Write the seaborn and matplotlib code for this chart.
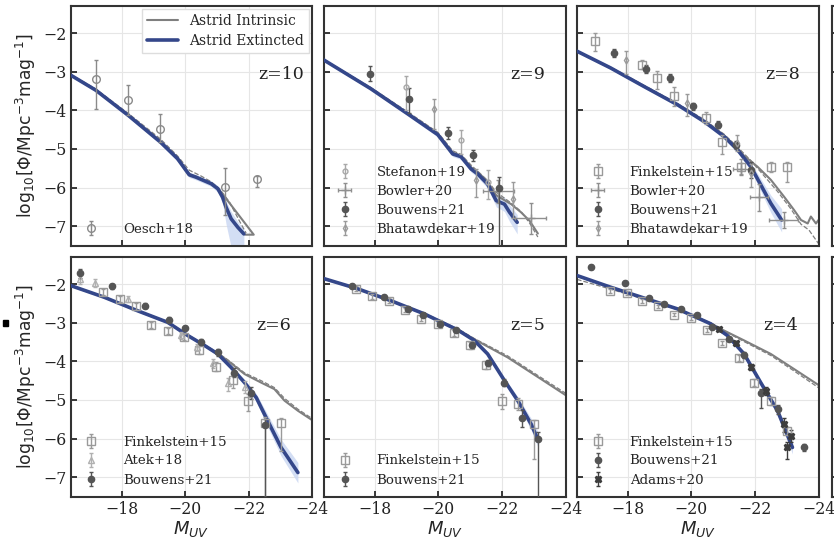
import matplotlib
matplotlib.use("Agg")
import matplotlib.pyplot as plt
import seaborn as sns
from matplotlib.patches import Rectangle
from matplotlib.lines import Line2D

# ---------------- panel labels ----------------
z_labels = ["z=10", "z=9", "z=8", "z=6", "z=5", "z=4"]
x_ticks = [-18, -20, -22, -24]
y_ticks = [-2, -3, -4, -5, -6, -7]

# ---------------- Astrid model curves ----------------
ext_M_z10 = [-16.4, -17.19, -18.21, -19.22, -19.76, -20.13, -20.34, -20.82, -21.03, -21.18, -21.29, -21.45, -21.66, -21.85]
ext_phi_z10 = [-3.09, -3.48, -4.13, -4.82, -5.25, -5.67, -5.73, -5.90, -6.03, -6.25, -6.51, -6.81, -7.03, -7.20]
ext_lo_z10 = [-3.13, -3.52, -4.18, -4.88, -5.32, -5.74, -5.80, -5.97, -6.12, -6.40, -6.95, -7.55, -7.60, -7.60]
ext_hi_z10 = [-3.05, -3.44, -4.08, -4.76, -5.18, -5.60, -5.66, -5.83, -5.95, -6.12, -6.35, -6.62, -6.88, -7.08]
int_M_z10 = [-16.4, -17.19, -18.21, -19.22, -19.76, -20.13, -20.34, -20.82, -21.03, -21.34, -22.16, -21.90]
int_phi_z10 = [-3.09, -3.47, -4.12, -4.80, -5.23, -5.65, -5.72, -5.89, -6.02, -6.34, -7.22, -7.22]
dash_M_z10 = [-16.4, -17.19, -18.21, -19.22, -19.76, -20.13, -20.5, -20.82, -21.1, -21.4, -21.7, -21.92]
dash_phi_z10 = [-3.07, -3.45, -4.08, -4.74, -5.18, -5.55, -5.70, -5.85, -6.05, -6.38, -6.85, -7.18]

ext_M_z9 = [-16.4, -17.87, -19.03, -19.98, -20.45, -20.71, -21.03, -21.24, -21.55, -21.82, -22.08, -22.24, -22.48]
ext_phi_z9 = [-2.70, -3.44, -4.09, -4.63, -5.13, -5.20, -5.52, -5.65, -5.91, -6.34, -6.43, -6.64, -6.90]
ext_lo_z9 = [-2.74, -3.48, -4.14, -4.69, -5.20, -5.27, -5.60, -5.74, -6.02, -6.50, -6.62, -6.88, -7.20]
ext_hi_z9 = [-2.66, -3.40, -4.04, -4.57, -5.06, -5.13, -5.44, -5.56, -5.80, -6.18, -6.25, -6.45, -6.70]
int_M_z9 = [-16.4, -17.87, -19.03, -19.98, -20.45, -20.71, -21.03, -21.24, -21.55, -21.82, -22.29, -22.6, -22.87, -23.13]
int_phi_z9 = [-2.70, -3.43, -4.07, -4.60, -5.10, -5.17, -5.48, -5.60, -5.85, -6.20, -6.43, -6.64, -6.86, -7.19]
dash_M_z9 = [-16.4, -17.87, -19.03, -19.98, -20.45, -20.71, -21.03, -21.24, -21.55, -21.82, -22.29, -22.6, -22.87, -23.13]
dash_phi_z9 = [-2.69, -3.41, -4.04, -4.57, -5.05, -5.14, -5.42, -5.58, -5.82, -6.12, -6.40, -6.62, -6.92, -7.28]

ext_M_z8 = [-16.4, -17.45, -18.5, -19.55, -20.4, -21.03, -21.45, -21.87, -22.13, -22.5, -22.84]
ext_phi_z8 = [-2.47, -2.90, -3.38, -3.85, -4.29, -4.68, -5.02, -5.46, -5.85, -6.41, -6.84]
ext_lo_z8 = [-2.51, -2.94, -3.42, -3.90, -4.34, -4.74, -5.09, -5.56, -6.00, -6.65, -7.15]
ext_hi_z8 = [-2.43, -2.86, -3.34, -3.80, -4.24, -4.62, -4.95, -5.36, -5.70, -6.20, -6.55]
int_M_z8 = [-16.4, -17.45, -18.5, -19.55, -20.4, -21.03, -21.45, -21.66, -22.08, -22.5, -22.92, -23.23, -23.45, -23.66, -23.76, -23.92, -24.0]
int_phi_z8 = [-2.47, -2.90, -3.37, -3.84, -4.27, -4.65, -4.98, -5.18, -5.46, -5.80, -6.24, -6.58, -6.84, -6.93, -6.75, -6.93, -6.84]
dash_M_z8 = [-16.4, -17.45, -18.5, -19.55, -20.4, -21.03, -21.45, -21.87, -22.29, -22.71, -23.13, -23.45, -23.7, -24.0]
dash_phi_z8 = [-2.46, -2.88, -3.35, -3.82, -4.24, -4.62, -4.95, -5.30, -5.70, -6.10, -6.55, -6.95, -7.10, -7.45]

ext_M_z6 = [-16.4, -17.45, -18.5, -19.45, -20.08, -20.61, -21.03, -21.45, -21.87, -22.24, -22.6, -23.02, -23.55]
ext_phi_z6 = [-2.04, -2.34, -2.69, -2.99, -3.33, -3.59, -3.81, -4.16, -4.55, -4.94, -5.54, -6.23, -6.88]
ext_lo_z6 = [-2.07, -2.37, -2.72, -3.03, -3.37, -3.63, -3.86, -4.22, -4.63, -5.04, -5.70, -6.45, -7.15]
ext_hi_z6 = [-2.01, -2.31, -2.66, -2.95, -3.29, -3.55, -3.76, -4.10, -4.47, -4.84, -5.38, -6.02, -6.62]
int_M_z6 = [-16.4, -17.45, -18.5, -19.45, -20.08, -20.61, -21.03, -21.34, -21.87, -22.39, -22.81, -23.13, -23.55, -24.03]
int_phi_z6 = [-2.04, -2.34, -2.69, -2.99, -3.33, -3.59, -3.80, -3.98, -4.33, -4.55, -4.72, -5.02, -5.28, -5.54]
dash_M_z6 = [-16.4, -17.45, -18.5, -19.45, -20.08, -20.61, -21.03, -21.34, -21.87, -22.39, -22.81, -23.13, -23.55, -24.03]
dash_phi_z6 = [-2.03, -2.33, -2.68, -2.98, -3.31, -3.57, -3.78, -3.96, -4.30, -4.50, -4.68, -4.96, -5.24, -5.50]

ext_M_z5 = [-16.4, -17.45, -18.5, -19.55, -20.61, -21.13, -21.55, -22.08, -22.5, -22.92, -23.13]
ext_phi_z5 = [-1.86, -2.12, -2.43, -2.77, -3.19, -3.46, -3.81, -4.50, -5.02, -5.63, -6.02]
ext_lo_z5 = [-1.89, -2.15, -2.46, -2.80, -3.23, -3.50, -3.86, -4.57, -5.12, -5.78, -6.22]
ext_hi_z5 = [-1.83, -2.09, -2.40, -2.74, -3.15, -3.42, -3.76, -4.43, -4.92, -5.48, -5.82]
int_M_z5 = [-16.4, -17.45, -18.5, -19.55, -20.61, -21.13, -22.18, -23.23, -24.03]
int_phi_z5 = [-1.86, -2.12, -2.43, -2.77, -3.18, -3.43, -3.90, -4.46, -4.89]
dash_M_z5 = [-16.4, -17.45, -18.5, -19.55, -20.61, -21.13, -22.18, -23.23, -24.03]
dash_phi_z5 = [-1.85, -2.11, -2.42, -2.75, -3.16, -3.41, -3.86, -4.42, -4.84]

ext_M_z4 = [-16.4, -17.45, -18.5, -19.55, -20.61, -21.13, -21.66, -22.18, -22.71, -23.18]
ext_phi_z4 = [-1.78, -2.08, -2.36, -2.64, -3.03, -3.33, -3.81, -4.55, -5.28, -6.23]
ext_lo_z4 = [-1.81, -2.11, -2.39, -2.67, -3.07, -3.37, -3.86, -4.62, -5.38, -6.40]
ext_hi_z4 = [-1.75, -2.05, -2.33, -2.61, -2.99, -3.29, -3.76, -4.48, -5.18, -6.06]
int_M_z4 = [-16.4, -17.45, -18.5, -19.55, -20.61, -20.92, -21.66, -22.5, -23.23, -24.03]
int_phi_z4 = [-1.78, -2.08, -2.36, -2.64, -3.02, -3.16, -3.46, -3.81, -4.20, -4.63]
dash_M_z4 = [-16.4, -17.45, -18.5, -19.55, -20.61, -20.92, -21.66, -22.5, -23.23, -24.03]
dash_phi_z4 = [-1.88, -2.13, -2.39, -2.66, -3.03, -3.17, -3.49, -3.85, -4.25, -4.70]

# ---------------- observations: (M, logphi, err_down, err_up) ----------------
oesch18_z10 = [(-17.19, -3.20, 0.77, 0.50), (-18.21, -3.74, 0.39, 0.39), (-19.22, -4.49, 0.33, 0.40),
               (-21.25, -5.99, 0.71, 0.50), (-22.26, -5.77, 0.22, 0.08)]

stefanon19_z9 = [(-18.98, -3.40, 0.60, 0.28), (-20.71, -4.76, 0.37, 0.26), (-21.55, -5.85, 0.45, 0.30)]
bowler20_z9 = [(-21.89, -6.10, 0.50, 0.30), (-22.90, -6.79, 0.50, 0.40)]   # (M, phi, xerr, yerr)
bouwens21_z9 = [(-17.85, -3.05, 0.20, 0.20), (-19.08, -3.72, 0.35, 0.30), (-20.29, -4.59, 0.15, 0.15),
                (-21.10, -5.17, 0.15, 0.15), (-21.92, -6.02, 1.60, 0.30)]
bhatawdekar19_z9 = [(-19.87, -3.96, 0.52, 0.26), (-21.18, -5.80, 0.45, 0.28), (-22.36, -6.30, 0.50, 0.45)]

finkelstein15_z8 = [(-16.98, -2.21, 0.26, 0.22), (-18.45, -2.82, 0.12, 0.12), (-18.92, -3.16, 0.30, 0.17),
                    (-19.45, -3.64, 0.25, 0.25), (-20.45, -4.20, 0.15, 0.15), (-20.97, -4.83, 0.30, 0.20),
                    (-21.55, -5.46, 0.20, 0.20), (-22.50, -5.46, 0.15, 0.12), (-23.02, -5.46, 0.40, 0.12)]
bowler20_z8 = [(-21.55, -5.52, 0.25, 0.15), (-22.13, -6.25, 0.27, 0.35), (-22.90, -6.84, 0.45, 0.20)]
bouwens21_z8 = [(-17.56, -2.51, 0.12, 0.10), (-18.56, -2.94, 0.10, 0.10), (-19.32, -3.16, 0.10, 0.10),
                (-20.06, -3.90, 0.10, 0.10), (-20.85, -4.37, 0.10, 0.10), (-21.40, -4.89, 0.10, 0.10),
                (-21.89, -5.54, 0.20, 0.20)]
bhatawdekar19_z8 = [(-17.95, -2.69, 0.38, 0.22), (-19.87, -3.81, 0.35, 0.22), (-21.43, -4.85, 0.20, 0.20),
                    (-21.87, -5.63, 0.35, 0.25)]

finkelstein15_z6 = [(-17.43, -2.21, 0.08, 0.08), (-17.96, -2.38, 0.08, 0.08), (-18.45, -2.58, 0.08, 0.08),
                    (-18.94, -3.07, 0.08, 0.08), (-19.45, -3.22, 0.08, 0.08), (-19.98, -3.38, 0.08, 0.08),
                    (-20.45, -3.71, 0.10, 0.10), (-20.97, -4.14, 0.12, 0.12), (-21.50, -4.49, 0.20, 0.20),
                    (-21.99, -5.04, 0.25, 0.20), (-22.50, -5.59, 2.00, 0.15), (-23.02, -5.59, 0.73, 0.12)]
atek18_z6 = [(-16.69, -1.86, 0.15, 0.12), (-17.16, -1.98, 0.10, 0.10), (-18.21, -2.38, 0.08, 0.08),
             (-19.87, -3.33, 0.10, 0.10), (-20.37, -3.64, 0.10, 0.10), (-20.87, -4.05, 0.12, 0.12),
             (-21.36, -4.57, 0.20, 0.15), (-21.87, -4.66, 0.15, 0.15)]
bouwens21_z6 = [(-16.69, -1.72, 0.12, 0.12), (-17.71, -2.06, 0.06, 0.06), (-18.73, -2.56, 0.06, 0.06),
                (-19.48, -2.92, 0.06, 0.06), (-20.00, -3.14, 0.06, 0.06), (-20.50, -3.51, 0.08, 0.08),
                (-21.03, -3.77, 0.08, 0.08), (-21.53, -4.29, 0.12, 0.12), (-22.06, -4.82, 0.15, 0.15),
                (-22.53, -5.65, 1.90, 0.15)]

finkelstein15_z5 = [(-17.40, -2.12, 0.06, 0.06), (-17.92, -2.32, 0.06, 0.06), (-18.43, -2.43, 0.06, 0.06),
                    (-18.96, -2.67, 0.06, 0.06), (-19.45, -2.90, 0.06, 0.06), (-19.98, -3.03, 0.06, 0.06),
                    (-20.48, -3.27, 0.08, 0.08), (-20.99, -3.59, 0.08, 0.08), (-21.50, -4.09, 0.10, 0.10),
                    (-22.00, -5.04, 0.20, 0.20), (-22.50, -5.11, 0.15, 0.15), (-23.02, -5.63, 0.90, 0.12)]
bouwens21_z5 = [(-17.29, -2.04, 0.05, 0.05), (-18.29, -2.34, 0.05, 0.05), (-19.03, -2.64, 0.05, 0.05),
                (-19.53, -2.80, 0.05, 0.05), (-20.06, -3.03, 0.05, 0.05), (-20.55, -3.19, 0.05, 0.05),
                (-21.06, -3.58, 0.06, 0.06), (-21.55, -4.05, 0.08, 0.08), (-22.08, -4.55, 0.10, 0.10),
                (-22.64, -5.46, 0.25, 0.20), (-23.13, -6.02, 1.60, 0.20)]

finkelstein15_z4 = [(-17.43, -2.19, 0.05, 0.05), (-17.96, -2.24, 0.05, 0.05), (-18.45, -2.45, 0.05, 0.05),
                    (-18.94, -2.58, 0.05, 0.05), (-19.45, -2.79, 0.05, 0.05), (-19.98, -2.88, 0.05, 0.05),
                    (-20.50, -3.19, 0.06, 0.06), (-20.97, -3.53, 0.06, 0.06), (-21.50, -3.92, 0.08, 0.08),
                    (-21.97, -4.55, 0.10, 0.10), (-22.50, -5.02, 0.10, 0.10), (-23.02, -5.80, 0.12, 0.10)]
bouwens21_z4 = [(-16.84, -1.56, 0.05, 0.05), (-17.92, -1.98, 0.05, 0.05), (-18.66, -2.36, 0.05, 0.05),
                (-19.15, -2.51, 0.05, 0.05), (-19.66, -2.64, 0.05, 0.05), (-20.19, -2.79, 0.05, 0.05),
                (-20.66, -3.12, 0.05, 0.05), (-21.18, -3.42, 0.06, 0.06), (-21.66, -3.83, 0.08, 0.08),
                (-22.18, -4.81, 0.40, 0.10), (-22.71, -5.24, 0.12, 0.12), (-23.53, -6.23, 0.08, 0.08)]
adams20_z4 = [(-20.87, -3.16, 0.05, 0.05), (-21.40, -3.53, 0.06, 0.06), (-21.87, -4.14, 0.08, 0.08),
              (-22.34, -4.76, 0.10, 0.10), (-22.92, -5.63, 0.20, 0.15), (-23.13, -5.93, 0.15, 0.15),
              (-23.02, -6.23, 0.31, 0.15)]

# ---------------- styles ----------------
C_EXT = "#34478a"
C_INT = "#7f7f7f"
C_BAND = "#c9d6f2"
styles = {
    "Oesch+18": dict(fmt="o", mfc="none", mec="#8a8a8a", ecolor="#8a8a8a", ms=5.5),
    "Stefanon+19": dict(fmt="o", mfc="none", mec="#a8a8a8", ecolor="#a8a8a8", ms=3.5),
    "Bowler+20": dict(fmt="+", mfc="none", mec="#8f8f8f", ecolor="#8f8f8f", ms=6),
    "Bouwens+21": dict(fmt="o", mfc="#555555", mec="#555555", ecolor="#555555", ms=4.5),
    "Bhatawdekar+19": dict(fmt="d", mfc="none", mec="#9a9a9a", ecolor="#9a9a9a", ms=3.5),
    "Finkelstein+15": dict(fmt="s", mfc="none", mec="#9a9a9a", ecolor="#9a9a9a", ms=5.5),
    "Atek+18": dict(fmt="^", mfc="none", mec="#b0b0b0", ecolor="#b0b0b0", ms=5),
    "Adams+20": dict(fmt="X", mfc="#3d3d3d", mec="#3d3d3d", ecolor="#3d3d3d", ms=4.5),
}

panels = [
    dict(ext=(ext_M_z10, ext_phi_z10, ext_lo_z10, ext_hi_z10), intr=(int_M_z10, int_phi_z10),
         dash=(dash_M_z10, dash_phi_z10), obs=[("Oesch+18", oesch18_z10)]),
    dict(ext=(ext_M_z9, ext_phi_z9, ext_lo_z9, ext_hi_z9), intr=(int_M_z9, int_phi_z9),
         dash=(dash_M_z9, dash_phi_z9),
         obs=[("Stefanon+19", stefanon19_z9), ("Bowler+20", bowler20_z9),
              ("Bouwens+21", bouwens21_z9), ("Bhatawdekar+19", bhatawdekar19_z9)]),
    dict(ext=(ext_M_z8, ext_phi_z8, ext_lo_z8, ext_hi_z8), intr=(int_M_z8, int_phi_z8),
         dash=(dash_M_z8, dash_phi_z8),
         obs=[("Finkelstein+15", finkelstein15_z8), ("Bowler+20", bowler20_z8),
              ("Bouwens+21", bouwens21_z8), ("Bhatawdekar+19", bhatawdekar19_z8)]),
    dict(ext=(ext_M_z6, ext_phi_z6, ext_lo_z6, ext_hi_z6), intr=(int_M_z6, int_phi_z6),
         dash=(dash_M_z6, dash_phi_z6),
         obs=[("Finkelstein+15", finkelstein15_z6), ("Atek+18", atek18_z6), ("Bouwens+21", bouwens21_z6)]),
    dict(ext=(ext_M_z5, ext_phi_z5, ext_lo_z5, ext_hi_z5), intr=(int_M_z5, int_phi_z5),
         dash=(dash_M_z5, dash_phi_z5),
         obs=[("Finkelstein+15", finkelstein15_z5), ("Bouwens+21", bouwens21_z5)]),
    dict(ext=(ext_M_z4, ext_phi_z4, ext_lo_z4, ext_hi_z4), intr=(int_M_z4, int_phi_z4),
         dash=(dash_M_z4, dash_phi_z4),
         obs=[("Finkelstein+15", finkelstein15_z4), ("Bouwens+21", bouwens21_z4), ("Adams+20", adams20_z4)]),
]
zlabel_x = [0.87, 0.845, 0.85, 0.84, 0.845, 0.845]

# ---------------- theme ----------------
sns.set_theme(style="whitegrid", rc={
    "grid.color": "#e6e6e6", "grid.linewidth": 0.8,
    "axes.edgecolor": "#333333", "axes.linewidth": 1.5,
    "xtick.direction": "in", "ytick.direction": "in",
    "xtick.bottom": True, "ytick.left": True,
    "xtick.major.size": 4, "ytick.major.size": 4,
    "xtick.color": "#333333", "ytick.color": "#333333",
})
plt.rcParams["font.family"] = ["DejaVu Serif"]
plt.rcParams["mathtext.fontset"] = "dejavusans"

fig = plt.figure(figsize=(8.34, 5.38), dpi=100)
W, H = 834.0, 538.0
col_left = [70.7, 324.0, 577.0, 832.0]
row_top = [6.0, 257.0]
aw, ah = 241.5, 239.5

XLIM = (-16.4, -24.0)
YLIM = (-7.5, -1.3)


def make_ax(col, row):
    l = col_left[col] / W
    b = 1 - (row_top[row] + ah) / H
    ax = fig.add_axes([l, b, aw / W, ah / H])
    ax.set_xlim(*XLIM)
    ax.set_ylim(*YLIM)
    ax.set_xticks(x_ticks)
    ax.set_yticks(y_ticks)
    ax.tick_params(labelsize=11.3, pad=3, colors="#222222")
    return ax


for i, p in enumerate(panels):
    row, col = divmod(i, 3)
    ax = make_ax(col, row)
    eM, ephi, elo, ehi = p["ext"]
    ax.fill_between(eM, elo, ehi, color=C_BAND, alpha=0.8, lw=0, zorder=1)
    sns.lineplot(x=p["intr"][0], y=p["intr"][1], ax=ax, color=C_INT, lw=1.5, sort=False,
                 estimator=None, zorder=2)
    sns.lineplot(x=p["dash"][0], y=p["dash"][1], ax=ax, color=C_INT, lw=0.9, ls="--", sort=False,
                 estimator=None, zorder=2)
    sns.lineplot(x=eM, y=ephi, ax=ax, color=C_EXT, lw=2.6, sort=False, estimator=None, zorder=3)

    handles, labels = [], []
    for name, data in p["obs"]:
        st = dict(styles[name])
        fmt = st.pop("fmt")
        ms = st.pop("ms")
        M = [d[0] for d in data]
        phi = [d[1] for d in data]
        if name == "Bowler+20":
            xerr = [d[2] for d in data]
            yerr = [d[3] for d in data]
        else:
            xerr = None
            yerr = [[d[2] for d in data], [d[3] for d in data]]
        h = ax.errorbar(M, phi, yerr=yerr, xerr=xerr, fmt=fmt, ms=ms, mew=1.0, elinewidth=1.0,
                        capsize=1.5, capthick=1.0, zorder=4, **st)
        handles.append(h)
        labels.append(name)
    ax.legend(handles, labels, loc="lower left", frameon=False, fontsize=9.6,
              handletextpad=1.6, labelspacing=0.45, borderaxespad=0.35, handlelength=1.6)

    ax.text(zlabel_x[i], 0.715, z_labels[i], transform=ax.transAxes, ha="center", va="center",
            fontsize=12.5, color="#222222")

    if col == 0:
        ax.set_ylabel(r"log$_{10}$[$\Phi$/Mpc$^{-3}$mag$^{-1}$]", family="DejaVu Sans",
                      fontsize=12.3, labelpad=4)
    else:
        ax.set_yticklabels([])
        ax.set_ylabel("")
    if row == 1:
        ax.set_xlabel(r"$M_{UV}$", fontsize=13, labelpad=1)
    else:
        ax.set_xticklabels([])
        ax.set_xlabel("")

    if i == 0:
        mh = [Line2D([], [], color=C_INT, lw=1.5), Line2D([], [], color=C_EXT, lw=2.6)]
        leg2 = ax.legend(mh, ["Astrid Intrinsic", "Astrid Extincted"], loc="upper right",
                         fontsize=10, frameon=True, framealpha=1, edgecolor="#dddddd",
                         fancybox=False, handlelength=2.2, labelspacing=0.4,
                         borderaxespad=0.25, borderpad=0.35)
        ax.add_artist(leg2)
        ax.legend(handles, labels, loc="lower left", frameon=False, fontsize=9.6,
                  handletextpad=1.6, labelspacing=0.45, borderaxespad=0.35, handlelength=1.6)

# sliver of the next column of panels, cut by the figure edge
for row in range(2):
    ax = make_ax(3, row)
    ax.set_xticklabels([])
    ax.set_yticklabels([])

fig.patches.append(Rectangle((3 / W, 1 - 326 / H), 5 / W, 6 / H, transform=fig.transFigure,
                             color="black", zorder=10))

fig.savefig("out.png", dpi=100)
